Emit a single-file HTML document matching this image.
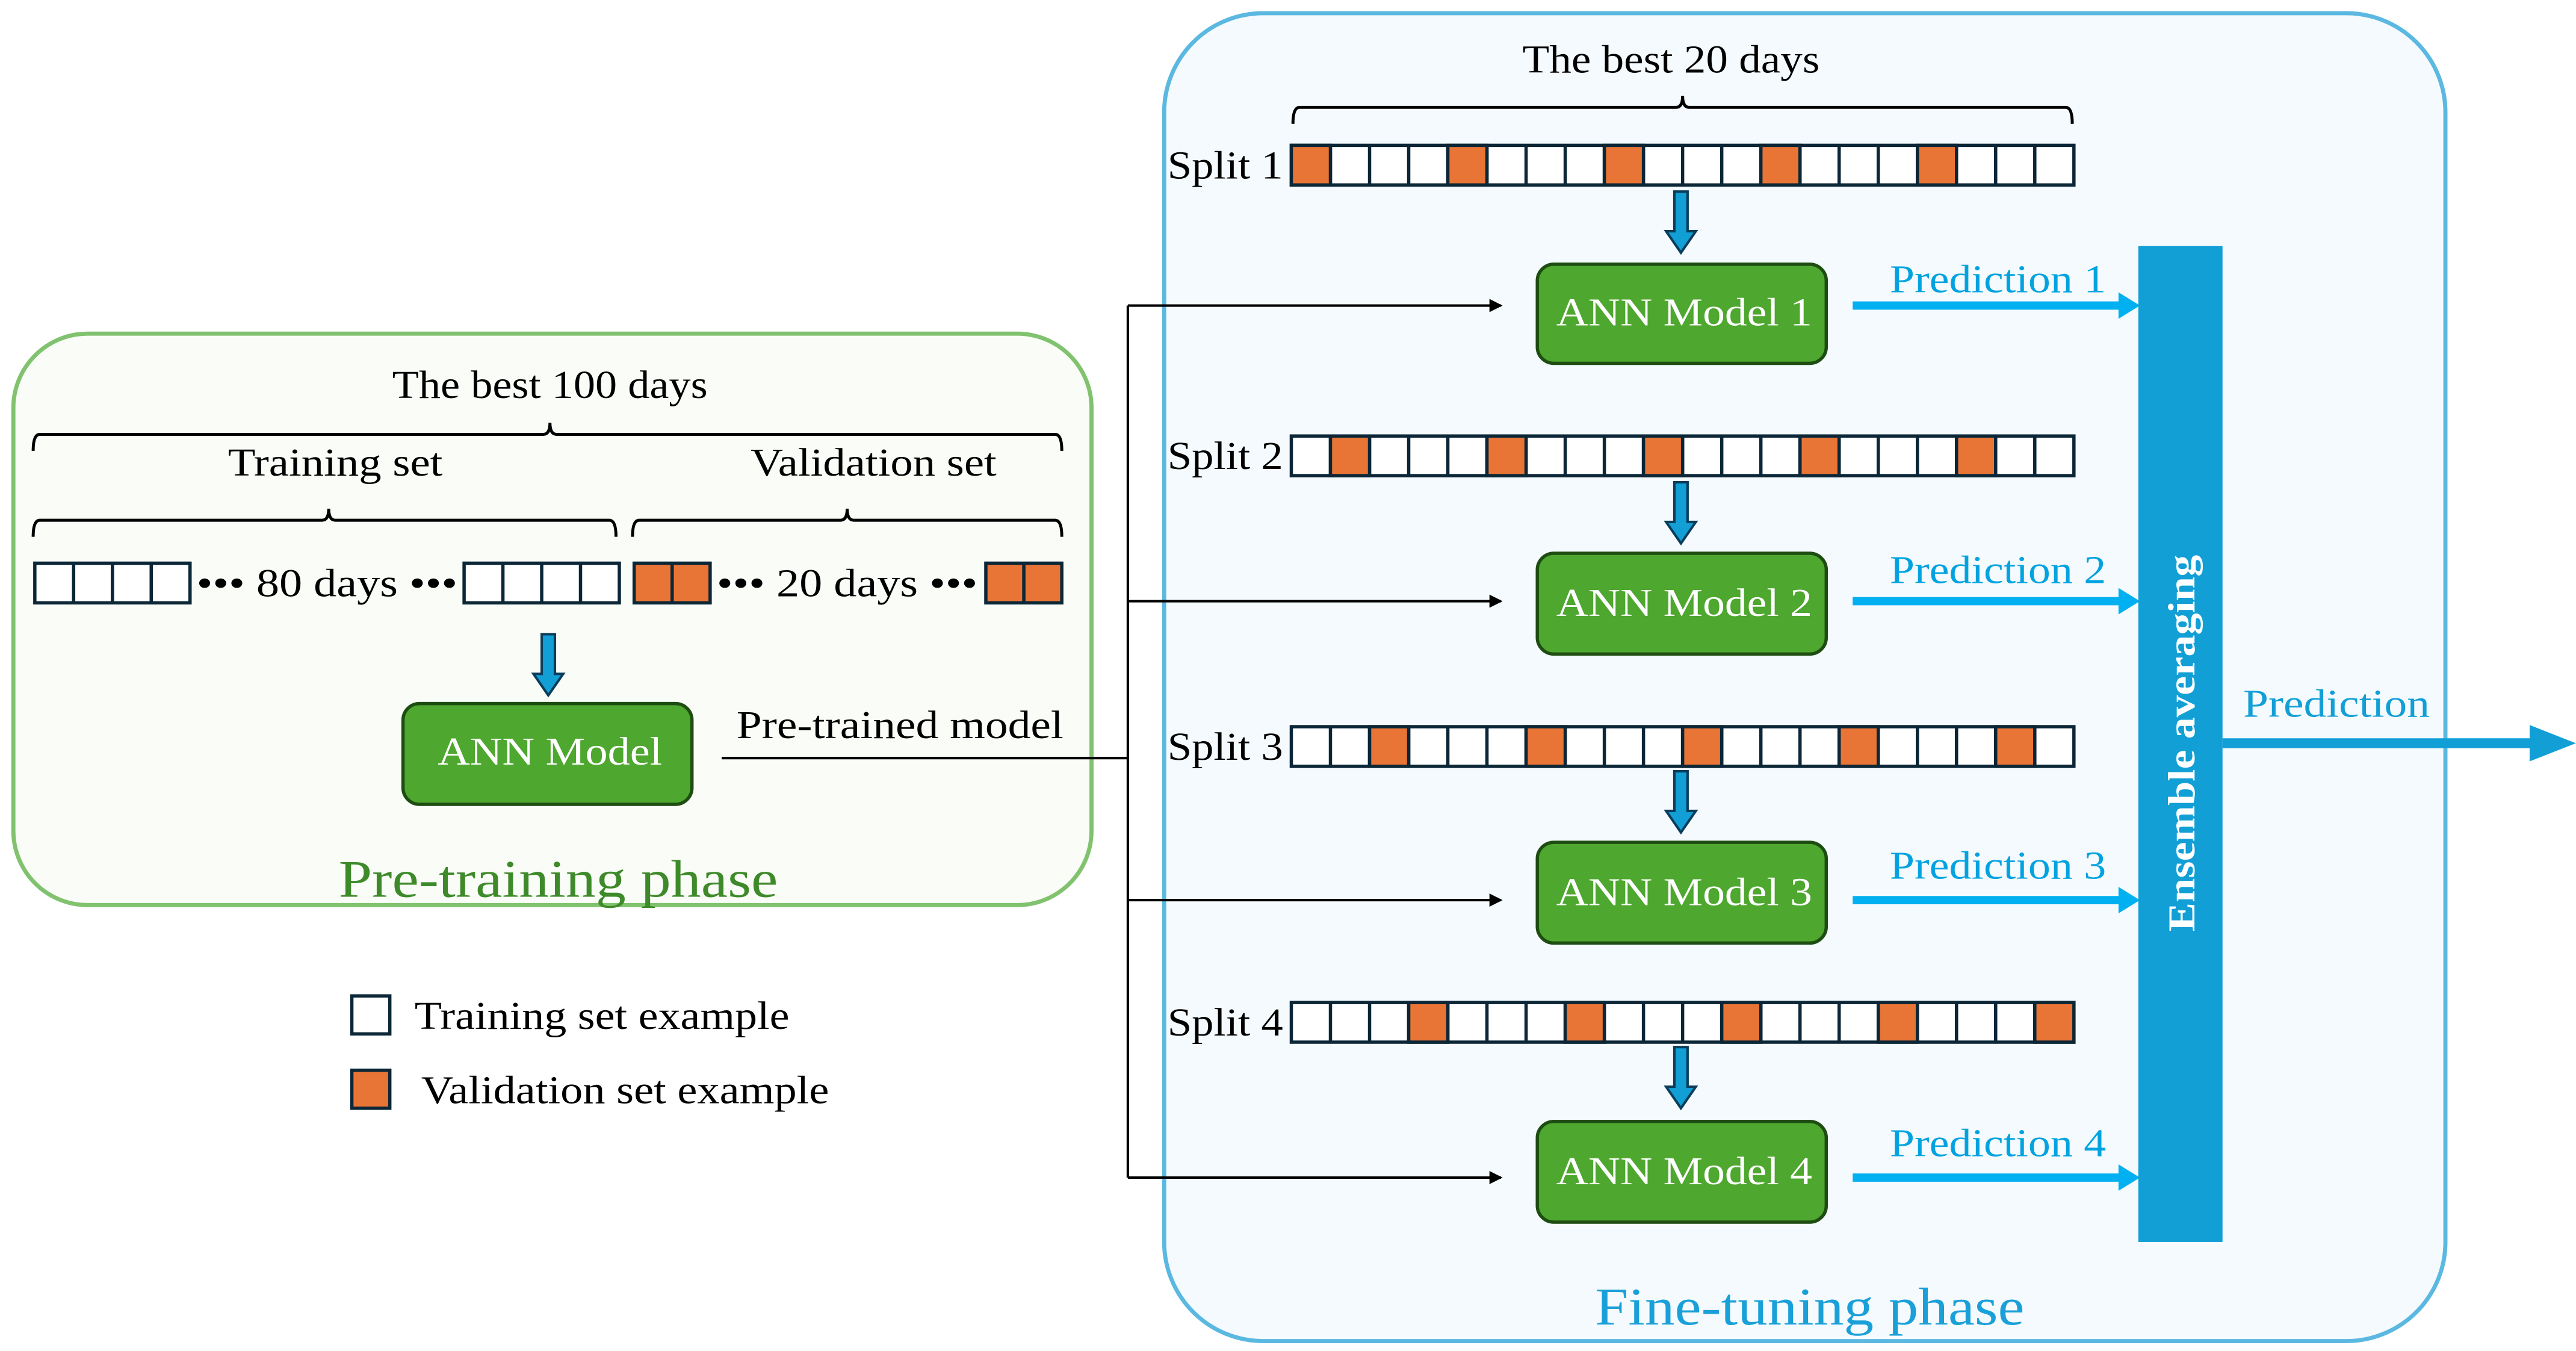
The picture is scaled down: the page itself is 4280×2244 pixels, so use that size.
<!DOCTYPE html>
<html><head><meta charset="utf-8"><style>html,body{margin:0;padding:0;background:#fff}svg{display:block}</style></head><body>
<svg width="4280" height="2244" viewBox="0 0 1560 818" xmlns="http://www.w3.org/2000/svg" font-family="'Liberation Serif', serif">
<defs>
<path id="da" d="M-4,0 h8 v24 h5 l-9,13 l-9,-13 h5z" fill="#119fd6" stroke="#0b3d5a" stroke-width="1.5"/>
<g id="cells" fill="none" stroke="#0b2636" stroke-width="2">
<rect x="782" y="0" width="474" height="24" fill="#fff"/>
<path d="M805.7,0v24M829.4,0v24M853.1,0v24M876.8,0v24M900.5,0v24M924.2,0v24M947.9,0v24M971.6,0v24M995.3,0v24M1019,0v24M1042.7,0v24M1066.4,0v24M1090.1,0v24M1113.8,0v24M1137.5,0v24M1161.2,0v24M1184.9,0v24M1208.6,0v24M1232.3,0v24"/>
</g>
<g id="or" fill="#e87435" stroke="#0b2636" stroke-width="2">
<rect x="782" y="0" width="23.7" height="24"/><rect x="876.8" y="0" width="23.7" height="24"/><rect x="971.6" y="0" width="23.7" height="24"/><rect x="1066.4" y="0" width="23.7" height="24"/><rect x="1161.2" y="0" width="23.7" height="24"/>
</g>
<marker id="ah" markerWidth="8" markerHeight="8" refX="7" refY="4" orient="auto" markerUnits="userSpaceOnUse"><path d="M0,0 L8,4 L0,8z" fill="#000"/></marker>
</defs>

<rect x="8" y="202" width="653" height="346" rx="45" fill="#f9fcf7" stroke="#80c26e" stroke-width="2.5"/>
<text x="333" y="241" font-size="24" text-anchor="middle" textLength="191" lengthAdjust="spacingAndGlyphs">The best 100 days</text>
<path d="M20,273 q0,-10 4,-10 H329 q4,0 4,-7 q0,7 4,7 H639 q4,0 4,10" fill="none" stroke="#000" stroke-width="1.8"/>
<text x="203" y="288" font-size="24" text-anchor="middle" textLength="130" lengthAdjust="spacingAndGlyphs">Training set</text>
<text x="529" y="288" font-size="24" text-anchor="middle" textLength="149" lengthAdjust="spacingAndGlyphs">Validation set</text>
<path d="M20,325 q0,-10 4,-10 H195 q4,0 4,-7 q0,7 4,7 H369 q4,0 4,10" fill="none" stroke="#000" stroke-width="1.8"/>
<path d="M383,325 q0,-10 4,-10 H509 q4,0 4,-7 q0,7 4,7 H639 q4,0 4,10" fill="none" stroke="#000" stroke-width="1.8"/>
<g stroke="#0b2636" stroke-width="2" fill="#fff">
<rect x="21" y="341" width="94" height="24"/><rect x="281" y="341" width="94" height="24"/>
<rect x="384" y="341" width="46" height="24" fill="#e87435"/><rect x="597" y="341" width="46" height="24" fill="#e87435"/>
<path d="M44.5,341v24M68,341v24M91.5,341v24M304.5,341v24M328,341v24M351.5,341v24M407,341v24M620,341v24" fill="none"/>
</g>
<text x="198" y="361" font-size="24" text-anchor="middle" textLength="158" lengthAdjust="spacingAndGlyphs">••• 80 days •••</text>
<text x="513" y="361" font-size="24" text-anchor="middle" textLength="158" lengthAdjust="spacingAndGlyphs">••• 20 days •••</text>
<use href="#da" x="332" y="384"/>
<rect x="244" y="426" width="175" height="61" rx="10" fill="#4ea72e" stroke="#1e4d12" stroke-width="2"/>
<text x="333" y="463" font-size="24" fill="#fff" text-anchor="middle" textLength="136" lengthAdjust="spacingAndGlyphs">ANN Model</text>
<text x="545" y="447" font-size="24" text-anchor="middle" textLength="198" lengthAdjust="spacingAndGlyphs">Pre-trained model</text>
<text x="338" y="543" font-size="32" fill="#3e8a2a" text-anchor="middle" textLength="266" lengthAdjust="spacingAndGlyphs">Pre-training phase</text>

<rect x="213" y="603" width="23" height="23" fill="#fff" stroke="#0b2636" stroke-width="2"/>
<text x="251" y="623" font-size="24" textLength="227" lengthAdjust="spacingAndGlyphs">Training set example</text>
<rect x="213" y="648" width="23" height="23" fill="#e87435" stroke="#0b2636" stroke-width="2"/>
<text x="255" y="668" font-size="24" textLength="247" lengthAdjust="spacingAndGlyphs">Validation set example</text>

<rect x="705" y="8" width="776" height="804" rx="60" fill="#f4fafd" stroke="#5bb8e0" stroke-width="2.5"/>
<text x="1012" y="44" font-size="24" text-anchor="middle" textLength="180" lengthAdjust="spacingAndGlyphs">The best 20 days</text>
<path d="M783,75 q0,-10 4,-10 H1015 q4,0 4,-7 q0,7 4,7 H1251 q4,0 4,10" fill="none" stroke="#000" stroke-width="1.8"/>

<use href="#cells" y="88"/><use href="#or" y="88"/>
<use href="#cells" y="264"/><use href="#or" x="23.7" y="264"/>
<use href="#cells" y="440"/><use href="#or" x="47.4" y="440"/>
<use href="#cells" y="607"/><use href="#or" x="71.1" y="607"/>
<g font-size="24" text-anchor="end"><text x="777" y="108" textLength="70" lengthAdjust="spacingAndGlyphs">Split 1</text><text x="777" y="284" textLength="70" lengthAdjust="spacingAndGlyphs">Split 2</text><text x="777" y="460" textLength="70" lengthAdjust="spacingAndGlyphs">Split 3</text><text x="777" y="627" textLength="70" lengthAdjust="spacingAndGlyphs">Split 4</text></g>

<use href="#da" x="1018" y="116"/><use href="#da" x="1018" y="292"/><use href="#da" x="1018" y="467"/><use href="#da" x="1018" y="634"/>

<g fill="#4ea72e" stroke="#1e4d12" stroke-width="2">
<rect x="931" y="160" width="175" height="60" rx="10"/><rect x="931" y="335" width="175" height="61" rx="10"/>
<rect x="931" y="510" width="175" height="61" rx="10"/><rect x="931" y="679" width="175" height="61" rx="10"/>
</g>
<g font-size="24" fill="#fff" text-anchor="middle">
<text x="1020" y="197" textLength="155" lengthAdjust="spacingAndGlyphs">ANN Model 1</text><text x="1020" y="373" textLength="155" lengthAdjust="spacingAndGlyphs">ANN Model 2</text><text x="1020" y="548" textLength="155" lengthAdjust="spacingAndGlyphs">ANN Model 3</text><text x="1020" y="717" textLength="155" lengthAdjust="spacingAndGlyphs">ANN Model 4</text>
</g>

<g stroke="#000" stroke-width="1.5" fill="none">
<path d="M437,459 H683"/><path d="M683,185 V713"/>
<path d="M683,185 H909" marker-end="url(#ah)"/><path d="M683,364 H909" marker-end="url(#ah)"/>
<path d="M683,545 H909" marker-end="url(#ah)"/><path d="M683,713 H909" marker-end="url(#ah)"/>
</g>

<g fill="#00b0f0">
<path d="M1122,182.5 H1283 V177 L1296,185 L1283,193 V187.5 H1122z"/>
<path d="M1122,361.5 H1283 V356 L1296,364 L1283,372 V366.5 H1122z"/>
<path d="M1122,542.5 H1283 V537 L1296,545 L1283,553 V547.5 H1122z"/>
<path d="M1122,710.5 H1283 V705 L1296,713 L1283,721 V715.5 H1122z"/>
</g>
<g font-size="24" fill="#00a3e0" text-anchor="middle">
<text x="1210" y="177" textLength="131" lengthAdjust="spacingAndGlyphs">Prediction 1</text><text x="1210" y="353" textLength="131" lengthAdjust="spacingAndGlyphs">Prediction 2</text><text x="1210" y="532" textLength="131" lengthAdjust="spacingAndGlyphs">Prediction 3</text><text x="1210" y="700" textLength="131" lengthAdjust="spacingAndGlyphs">Prediction 4</text>
</g>

<rect x="1295" y="149" width="51" height="603" fill="#119fd6"/>
<text transform="translate(1329,450) rotate(-90)" font-size="23" font-weight="bold" fill="#fff" text-anchor="middle" textLength="228" lengthAdjust="spacingAndGlyphs">Ensemble averaging</text>
<path d="M1346,447 H1532 V439 L1560,450 L1532,461 V453 H1346z" fill="#119fd6"/>
<text x="1415" y="434" font-size="24" fill="#119fd6" text-anchor="middle" textLength="113" lengthAdjust="spacingAndGlyphs">Prediction</text>
<text x="1096" y="802" font-size="32" fill="#1aa0d8" text-anchor="middle" textLength="260" lengthAdjust="spacingAndGlyphs">Fine-tuning phase</text>
</svg>
</body></html>
